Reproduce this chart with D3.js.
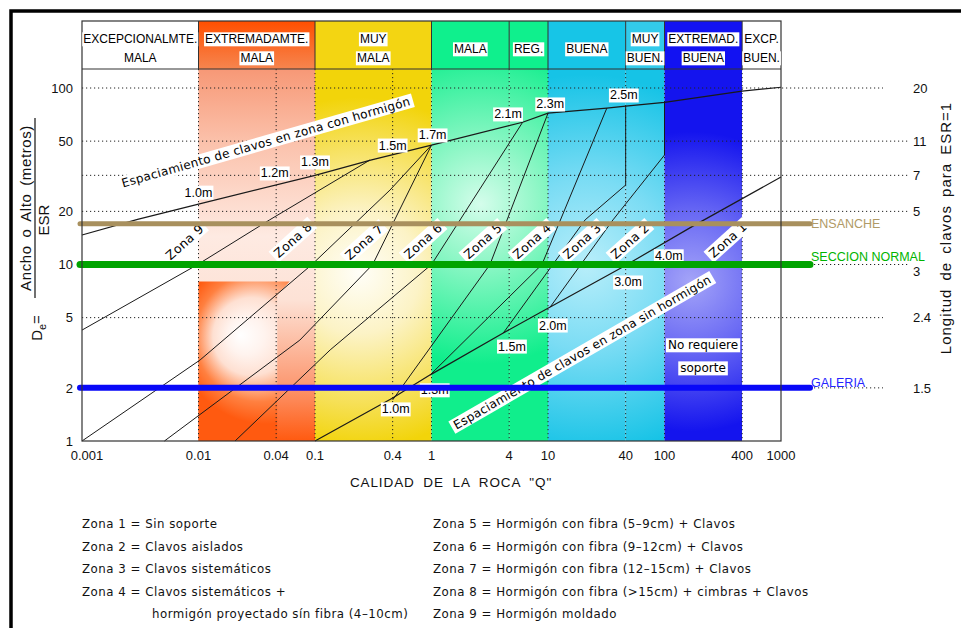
<!DOCTYPE html>
<html><head><meta charset="utf-8">
<script src="https://cdn.jsdelivr.net/npm/d3@7"></script>
<style>body{margin:0;background:#fff}svg{display:block}</style>
</head><body>
<svg id="c" width="961" height="628"></svg>
<script>
// ---------------- DATA ----------------
const qTicks = [0.001, 0.01, 0.04, 0.1, 0.4, 1, 4, 10, 40, 100, 400, 1000];
const qTickLabels = ["0.001","0.01","0.04","0.1","0.4","1","4","10","40","100","400","1000"];
const deTicks = [1, 2, 5, 10, 20, 50, 100];
const gridDe = [100, 50, 32, 20, 10, 5, 2];
const boltLengthLabels = ["20","11","7","5","3","2.4","1.5"];
const classBounds = [0.001, 0.01, 0.1, 1, 4, 10, 40, 100, 400, 1000];
const classLabels = [["EXCEPCIONALMTE.","MALA"],["EXTREMADAMTE.","MALA"],["MUY","MALA"],["MALA"],["REG."],["BUENA"],["MUY","BUEN."],["EXTREMAD.","BUENA"],["EXCP.","BUEN."]];
// bolt spacing line in shotcreted area [Q, De]
const upperSpacing = [[0.001,14.7],[0.003,18],[0.01,22],[0.1,32],[0.27,39],[1,47.5],[5.5,64],[10,72],[28.6,77],[40,79],[100,83],[400,96],[1000,101]];
const upperSpacingLabels = [[0.01,25.7,"1.0m"],[0.039,33,"1.2m"],[0.1,38.1,"1.3m"],[0.4,47.5,"1.5m"],[1.02,54.2,"1.7m"],[3.92,71.3,"2.1m"],[10.4,81.2,"2.3m"],[38.7,91.3,"2.5m"]];
// bolt spacing line in non-shotcreted area
const lowerSpacing = [[0.1,1],[0.4,1.75],[0.97,2.37],[3.6,4.09],[10.4,5.74],[38,9.68],[166,16.5],[1000,31.3]];
const lowerSpacingLabels = [[0.43,1.52,"1.0m"],[1.06,1.95,"1.3m"],[4.27,3.45,"1.5m"],[10.9,4.54,"2.0m"],[42.3,7.96,"3.0m"],[108,11.2,"4.0m"]];
// zone boundary lines
const zoneLines = [
  [[0.001,4.25],[0.0096,9.9],[0.0356,17.9],[0.267,39.1]],
  [[0.001,1],[0.0103,2.88],[0.093,10],[0.381,26.4],[1,47.5]],
  [[0.0051,1],[0.07,3.73],[0.28,10],[1,47.5]],
  [[0.0192,1],[0.131,3.28],[1,10],[5.5,64]],
  [[0.4,1.71],[2.84,10],[10,72]],
  [[0.97,2.37],[8.67,10],[28.6,77]],
  [[3.6,4.09],[19.4,17.9],[40,28.2],[40,79]],
  [[10.4,5.74],[31.9,17.9],[100,41.7],[100,83]]
];
const zoneLabels = [[0.0076,13.4,"Zona 9"],[0.0594,13.8,"Zona 8"],[0.24,13.4,"Zona 7"],[0.82,13.6,"Zona 6"],[2.5,13.6,"Zona 5"],[6.85,13.6,"Zona 4"],[18.4,13.6,"Zona 3"],[44.3,13.6,"Zona 2"],[310,13.8,"Zona 1"]];
const sectionNames = ["ENSANCHE","SECCION NORMAL","GALERIA"];
const sectionDe = [17, 10, 2];
const noSupportText = [[199,3.5,"No requiere"],[199,2.59,"soporte"]];
const spacingTexts = [[0.0333,49.4,"Espaciamiento de clavos en zona con hormigón"],[18.4,3.19,"Espaciamiento de clavos en zona sin hormigón"]];
const legendLeft = ["Zona 1 = Sin soporte","Zona 2 = Clavos aislados","Zona 3 = Clavos sistemáticos","Zona 4 = Clavos sistemáticos +"];
const legendLeftCont = "hormigón proyectado sín fibra (4–10cm)";
const legendRight = ["Zona 5 = Hormigón con fibra (5–9cm) + Clavos","Zona 6 = Hormigón con fibra (9–12cm) + Clavos","Zona 7 = Hormigón con fibra (12–15cm) + Clavos","Zona 8 = Hormigón con fibra (>15cm) + cimbras + Clavos","Zona 9 = Hormigón moldado"];
// saturated orange patch
const orangePatch = [[0.01,8],[0.055,8],[0.041,6.7],[0.041,1],[0.01,1]];

// ---------------- LAYOUT ----------------
const X0 = 82, X1 = 781, DEC = (X1 - X0) / 6;
const YB = 441, YT = 69, HT = 21;
const svg = d3.select('#c');
const defs = svg.append('defs');
const decadePos = q => { const l = Math.log10(q); const d = Math.floor(l + 1e-9); const m = q / Math.pow(10, d); return d + 3 + (m > 1.0001 ? 2/3 : 0); };
const x = d3.scaleLog().domain(qTicks).range(qTicks.map(q => X0 + decadePos(q) * DEC));
const y = d3.scaleLog().domain([1, 100]).range([YB, 88]);
const SANS = "'Liberation Sans', Arial, sans-serif";
const CAD = "'DejaVu Sans', sans-serif";

function lin(id, x1, y1, x2, y2, stops) {
  const g = defs.append('linearGradient').attr('id', id).attr('gradientUnits', 'userSpaceOnUse')
    .attr('x1', x1).attr('y1', y1).attr('x2', x2).attr('y2', y2);
  stops.forEach(s => g.append('stop').attr('offset', s[0]).attr('stop-color', s[1]));
}
function rad(id, cx, cy, r, stops, fx, fy) {
  const g = defs.append('radialGradient').attr('id', id).attr('gradientUnits', 'userSpaceOnUse')
    .attr('cx', cx).attr('cy', cy).attr('r', r).attr('fx', fx ?? cx).attr('fy', fy ?? cy);
  stops.forEach(s => g.append('stop').attr('offset', s[0]).attr('stop-color', s[1]));
}
const xc = i => (x(classBounds[i]) + x(classBounds[i + 1])) / 2;

lin('gOr', 0, YT, 0, YB, [[0,'#F79876'],[0.2,'#FBC2AC'],[0.45,'#FEEAE2'],[0.62,'#FDE2D6'],[0.84,'#FC9C76'],[1,'#FF5A10']]);
rad('gOrBox', x(0.0333), y(3.83), 86, [[0,'#FFFFFF'],[0.22,'#FFF3EE'],[0.45,'#FEE0D2'],[0.75,'#FF8040'],[1,'#FF5A10']], x(0.021), y(3.98));
rad('gYe', x(0.22), y(9), 175, [[0,'#FFFEF8'],[0.35,'#FCF3C6'],[0.75,'#F6E056'],[1,'#F2D40A']]);
rad('gGr', x(2.4), y(22), 160, [[0,'#D4FDEB'],[0.35,'#92F7C8'],[1,'#10EE8C']]);
rad('gCy', x(20), y(10), 190, [[0,'#B8EEFA'],[0.45,'#7ADCF4'],[1,'#16C3E6']]);
rad('gBl', x(160), y(8), 150, [[0,'#A4A4F8'],[0.45,'#6A6AF4'],[1,'#1414EE']]);
lin('hOr', 0, HT, 0, YT, [[0,'#FF4F00'],[1,'#F6854F']]);

const plotFill = ['#ffffff','url(#gOr)','url(#gYe)','url(#gGr)','url(#gGr)','url(#gCy)','url(#gCy)','url(#gBl)','#ffffff'];
const headFill = ['#ffffff','url(#hOr)','#F3D512','#0FF08D','#0FF08D','#17C5E7','#33CAEA','#1212F2','#ffffff'];

// outer frame
svg.append('path').attr('d', `M11,628V11H961`).attr('fill','none').attr('stroke','#000').attr('stroke-width',3.5);

// plot column backgrounds
const bg = svg.append('g');
classLabels.forEach((_, i) => {
  bg.append('rect').attr('x', x(classBounds[i])).attr('y', YT)
    .attr('width', x(classBounds[i + 1]) - x(classBounds[i])).attr('height', YB - YT)
    .attr('fill', plotFill[i]);
  bg.append('rect').attr('x', x(classBounds[i])).attr('y', HT)
    .attr('width', x(classBounds[i + 1]) - x(classBounds[i])).attr('height', YT - HT)
    .attr('fill', headFill[i]);
});
bg.append('path').attr('d', d3.line().x(d => x(d[0])).y(d => y(d[1]))(orangePatch) + 'Z').attr('fill','url(#gOrBox)');

// dotted grid
const grid = svg.append('g').attr('stroke','#222').attr('stroke-width',1).attr('stroke-dasharray','1.2 2.8').attr('fill','none');
const gridExt = [883, 910, 910, 910, 910, 883, 883];
gridDe.forEach((v, i) => grid.append('line').attr('x1', X0).attr('x2', gridExt[i]).attr('y1', y(v)).attr('y2', y(v)));
qTicks.slice(1, -1).forEach(q => grid.append('line').attr('x1', x(q)).attr('x2', x(q)).attr('y1', YT).attr('y2', YB));

// lines
const line = d3.line().x(d => x(d[0])).y(d => y(d[1]));
const lg = svg.append('g').attr('fill','none').attr('stroke','#1a1a1a').attr('stroke-width',1);
zoneLines.forEach(l => lg.append('path').attr('d', line(l)));
lg.append('path').attr('d', line(upperSpacing)).attr('stroke-width',1.2);
lg.append('path').attr('d', line(lowerSpacing)).attr('stroke-width',1.2);

function boxed(g, tx, ty, ang, txt, font, size, pad, ls) {
  const gg = g.append('g').attr('transform', `translate(${tx},${ty}) rotate(${ang})`);
  const t = gg.append('text').attr('text-anchor','middle').attr('dy','0.36em')
    .style('font-family', font).style('font-size', size + 'px').style('letter-spacing', (ls || 0) + 'px')
    .attr('fill','#000').text(txt);
  const bb = t.node().getBBox();
  gg.insert('rect','text').attr('x', bb.x - pad).attr('y', bb.y).attr('width', bb.width + 2 * pad).attr('height', bb.height).attr('fill','#fff');
  return gg;
}
const ann = svg.append('g');
upperSpacingLabels.forEach(d => boxed(ann, x(d[0]), y(d[1]), 0, d[2], SANS, 12.5, 1));
lowerSpacingLabels.forEach(d => boxed(ann, x(d[0]), y(d[1]), 0, d[2], SANS, 12.5, 1));
boxed(ann, x(spacingTexts[0][0]), y(spacingTexts[0][1]), -16, spacingTexts[0][2], CAD, 12, 3, 0.3);
boxed(ann, x(spacingTexts[1][0]), y(spacingTexts[1][1]), -30, spacingTexts[1][2], CAD, 12, 3, 0.3);
zoneLabels.forEach(d => boxed(ann, x(d[0]), y(d[1]), -42, d[2], CAD, 12.5, 3, 0.4));
noSupportText.forEach(d => boxed(ann, x(d[0]), y(d[1]), 0, d[2], CAD, 12, 2));

// section bands
const bandColor = ['#A8905E','#00A400','#0808F8'];
const bandText = ['#B09A66','#00B400','#2424FF'];
const bandW = [5, 7, 6];
const bandTextShift = [0, -8, -5];
sectionDe.forEach((v, i) => {
  svg.append('line').attr('x1', X0 - 2).attr('x2', 810).attr('y1', y(v)).attr('y2', y(v))
    .attr('stroke', bandColor[i]).attr('stroke-width', bandW[i]).attr('stroke-linecap','round');
  svg.append('text').attr('x', 811).attr('y', y(v) + bandTextShift[i]).attr('dy','0.36em')
    .style('font-family', SANS).style('font-size','12.5px').attr('fill', bandText[i]).text(sectionNames[i]);
});

// frame of plot and header
const fr = svg.append('g').attr('stroke','#333').attr('fill','none');
fr.append('rect').attr('x', X0).attr('y', HT).attr('width', X1 - X0).attr('height', YB - HT).attr('stroke-width',1.2);
fr.append('line').attr('x1', X0).attr('x2', X1).attr('y1', YT).attr('y2', YT).attr('stroke-width',1.2);
classBounds.slice(1, -1).forEach(q => fr.append('line').attr('x1', x(q)).attr('x2', x(q)).attr('y1', HT).attr('y2', YT));

// header labels
const hd = svg.append('g');
classLabels.forEach((lab, i) => {
  if (lab.length === 2) {
    boxed(hd, xc(i), 39, 0, lab[0], SANS, 12, 1);
    boxed(hd, xc(i), 58, 0, lab[1], SANS, 12, 1);
  } else boxed(hd, xc(i), 49, 0, lab[0], SANS, 12, 1);
});

// axes labels
const ax = svg.append('g').style('font-family', SANS).style('font-size','13px').attr('fill','#111');
deTicks.forEach(v => ax.append('text').attr('x', 73).attr('y', y(v)).attr('dy','0.36em').attr('text-anchor','end').text(v));
qTicks.forEach((q, i) => ax.append('text').attr('x', x(q) + (i === 0 ? 5 : 0)).attr('y', 455).attr('dy','0.36em').attr('text-anchor','middle').text(qTickLabels[i]));
gridDe.forEach((v, i) => ax.append('text').attr('x', 913).attr('y', y(v) + (i === 4 ? 7 : 0)).attr('dy','0.36em').text(boltLengthLabels[i]));
ax.append('text').attr('x', 451).attr('y', 482).attr('dy','0.36em').attr('text-anchor','middle')
  .style('font-size','13.5px').style('letter-spacing','0.9px').style('word-spacing','4px').text('CALIDAD DE LA ROCA "Q"');
ax.append('text').attr('transform', `translate(951,228) rotate(-90)`).attr('text-anchor','middle')
  .style('font-size','15px').style('letter-spacing','1px').style('word-spacing','3px').text('Longitud de clavos para ESR=1');
const lt = svg.append('g').style('font-family', SANS).attr('fill','#111');
lt.append('text').attr('transform', `translate(31,208) rotate(-90)`).attr('text-anchor','middle')
  .style('font-size','15px').style('letter-spacing','0.6px').style('word-spacing','3px').text('Ancho o Alto (metros)');
lt.append('line').attr('x1', 35).attr('x2', 35).attr('y1', 118).attr('y2', 298).attr('stroke','#111').attr('stroke-width',1.2);
lt.append('text').attr('transform', `translate(49,220) rotate(-90)`).attr('text-anchor','middle').style('font-size','15px').text('ESR');
const de = lt.append('text').attr('transform', `translate(42,328) rotate(-90)`).attr('text-anchor','middle').style('font-size','15px');
de.append('tspan').text('D');
de.append('tspan').attr('dy', 4).style('font-size','11px').text('e');
de.append('tspan').attr('dy', -4).text('=');

// legend
const lgd = svg.append('g').style('font-family', CAD).style('font-size','11.8px').style('letter-spacing','0.5px').attr('fill','#111');
legendLeft.forEach((t, i) => lgd.append('text').attr('x', 82).attr('y', 528 + i * 22.6).text(t));
lgd.append('text').attr('x', 152).attr('y', 528 + 4 * 22.6).text(legendLeftCont);
legendRight.forEach((t, i) => lgd.append('text').attr('x', 433).attr('y', 528 + i * 22.6).text(t));
</script>
</body></html>
